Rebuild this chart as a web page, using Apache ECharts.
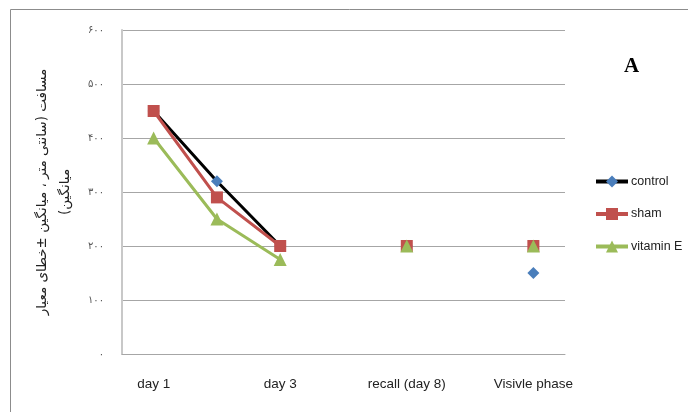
<!DOCTYPE html>
<html>
<head>
<meta charset="utf-8">
<script src="https://cdn.jsdelivr.net/npm/echarts@6/dist/echarts.min.js"></script>
<style>
  html, body { margin: 0; padding: 0; background: #fff; }
  #chart { width: 688px; height: 412px; }
</style>
</head>
<body>
<div id="chart"></div>
<script>
// categories (only every second one gets a label, like the original)
const categories = ['day 1', 'day 2', 'day 3', '', 'recall (day 8)', '', 'Visivle phase'];
const control = [450, 320, 200, null, 200, null, 150];
const sham = [450, 290, 200, null, 200, null, 200];
const vitaminE = [400, 250, 175, null, 200, null, 200];
const yTicks = [0, 100, 200, 300, 400, 500, 600];
const yName = '\u202Bمسافت (سانتی متر ، میانگین ±خطای معیار\u202C\n\u202Bمیانگین)\u202C';

const persianDigits = '۰۱۲۳۴۵۶۷۸۹';
const toPersian = (v) => String(v).replace(/[0-9]/g, (d) => persianDigits[d]);

const chart = echarts.init(document.getElementById('chart'));
const option = {
  animation: false,
  grid: { left: 122, right: 123, top: 30, bottom: 58 },
  graphic: [
    {
      type: 'rect',
      shape: { x: 10.5, y: 9.5, width: 720, height: 440 },
      style: { fill: 'none', stroke: '#8c8c8c', lineWidth: 1 },
      silent: true
    },
    {
      type: 'text',
      left: 624,
      top: 56,
      style: { text: 'A', font: 'bold 21px "Liberation Serif"', fill: '#000' }
    }
  ],
  legend: {
    orient: 'vertical',
    left: 589,
    top: 170,
    itemWidth: 32,
    itemHeight: 15,
    itemGap: 19.5,
    lineStyle: { width: 4 },
    textStyle: { fontFamily: 'Liberation Sans', fontSize: 12.5, color: '#222', padding: [0, 0, 0, -2] },
    data: ['control', 'sham', 'vitamin E']
  },
  xAxis: {
    type: 'category',
    data: categories,
    axisLine: { lineStyle: { color: '#a6a6a6' } },
    axisTick: { show: false },
    axisLabel: {
      interval: 1,
      margin: 23,
      fontFamily: 'Liberation Sans',
      fontSize: 13.5,
      color: '#222'
    }
  },
  yAxis: {
    type: 'value',
    min: yTicks[0],
    max: yTicks[yTicks.length - 1],
    interval: 100,
    name: yName,
    nameLocation: 'middle',
    nameRotate: 90,
    nameGap: 39,
    nameTextStyle: { fontFamily: 'DejaVu Sans', fontSize: 13.5, lineHeight: 23, color: '#222' },
    axisLine: { show: true, lineStyle: { color: '#c8c8c8', width: 2 } },
    axisTick: { show: false },
    axisLabel: {
      margin: 18,
      fontFamily: 'DejaVu Sans',
      fontSize: 10,
      color: '#555',
      formatter: (v) => toPersian(v)
    },
    splitLine: { lineStyle: { color: '#a6a6a6', width: 1 } }
  },
  series: [
    {
      name: 'control',
      type: 'line',
      data: control,
      symbol: 'diamond',
      symbolSize: 12,
      lineStyle: { color: '#000', width: 3 },
      itemStyle: { color: '#4a7ebb' }
    },
    {
      name: 'sham',
      type: 'line',
      data: sham,
      symbol: 'rect',
      symbolSize: 12,
      lineStyle: { color: '#c0504d', width: 3 },
      itemStyle: { color: '#c0504d' }
    },
    {
      name: 'vitamin E',
      type: 'line',
      data: vitaminE,
      symbol: 'triangle',
      symbolSize: 13,
      lineStyle: { color: '#9bbb59', width: 3 },
      itemStyle: { color: '#9bbb59' }
    }
  ]
};
chart.setOption(option);
</script>
</body>
</html>
